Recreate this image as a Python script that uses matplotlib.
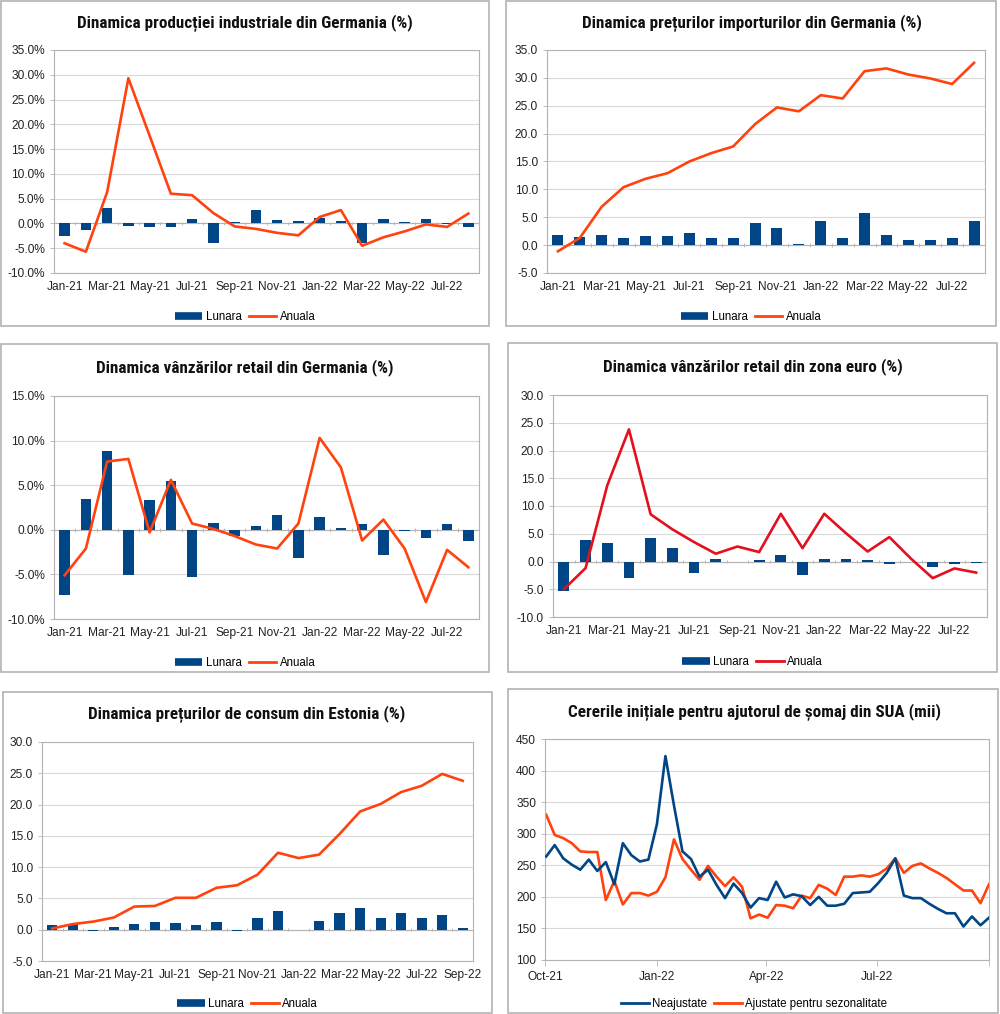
import matplotlib
matplotlib.use("Agg")
import matplotlib.pyplot as plt
from matplotlib.patches import Rectangle
from matplotlib.lines import Line2D
import pandas as pd
import numpy as np

plt.rcParams['font.family'] = ['Liberation Sans', 'DejaVu Sans']
TITLE_FONT = ['Roboto Condensed', 'Barlow Condensed', 'DejaVu Sans']

W, H = 1000, 1014
BLUE = '#004586'
ORANGE = '#ff420e'
RED = '#e3101e'
GRID = '#d9d9d9'
EDGE = '#b3b3b3'

# ---- date categories ----
months_20 = list(pd.date_range('2021-01-01', periods=20, freq='MS').strftime('%b-%y'))
months_21 = list(pd.date_range('2021-01-01', periods=21, freq='MS').strftime('%b-%y'))

# ---- 1. productia industriala Germania (%) ----
ind_lunara = [-2.5, -1.3, 3.1, -0.6, -0.8, -0.8, 0.8, -4.0, 0.3, 2.8,
              0.6, 0.5, 1.1, 0.4, -4.0, 0.9, 0.3, 0.9, -0.1, -0.8]
ind_anuala = [-4.0, -5.7, 6.3, 29.3, 17.7, 6.0, 5.7, 2.1, -0.6, -1.1,
              -1.9, -2.4, 1.3, 2.7, -4.5, -2.8, -1.6, -0.2, -0.7, 2.0]

# ---- 2. preturi import Germania ----
imp_lunara = [1.9, 1.5, 1.8, 1.3, 1.6, 1.6, 2.2, 1.3, 1.3, 3.9,
              3.0, 0.15, 4.3, 1.3, 5.8, 1.8, 0.9, 1.0, 1.3, 4.3]
imp_anuala = [-1.1, 1.3, 6.9, 10.4, 11.9, 12.9, 15.0, 16.5, 17.7, 21.7,
              24.7, 24.0, 26.9, 26.3, 31.2, 31.7, 30.6, 29.9, 28.9, 32.7]

# ---- 3. vanzari retail Germania (%) ----
rde_lunara = [-7.35, 3.45, 8.8, -5.05, 3.3, 5.5, -5.25, 0.8, -0.7, 0.4,
              1.7, -3.2, 1.4, 0.2, 0.6, -2.8, -0.1, -0.9, 0.7, -1.3]
rde_anuala = [-5.1, -2.1, 7.65, 7.95, -0.3, 5.6, 0.7, 0.1, -0.7, -1.65,
              -2.1, 0.7, 10.3, 7.0, -1.2, 1.15, -2.1, -8.1, -2.25, -4.2]

# ---- 4. vanzari retail zona euro ----
rez_lunara = [-5.3, 3.8, 3.35, -3.05, 4.25, 2.45, -2.05, 0.4, -0.1, 0.3,
              1.15, -2.35, 0.4, 0.4, 0.25, -0.4, -0.05, -1.0, -0.4, -0.3]
rez_anuala = [-5.0, -1.2, 13.7, 23.8, 8.5, 5.8, 3.5, 1.4, 2.7, 1.7,
              8.6, 2.4, 8.6, 5.1, 1.8, 4.4, 0.5, -3.0, -1.25, -2.0]

# ---- 5. preturi consum Estonia ----
est_lunara = [0.7, 0.95, -0.2, 0.45, 0.95, 1.2, 1.1, 0.7, 1.2, -0.2, 1.85,
              3.05, -0.05, 1.45, 2.65, 3.55, 1.85, 2.65, 1.85, 2.3, 0.3]
est_anuala = [0.2, 0.9, 1.3, 1.95, 3.7, 3.8, 5.1, 5.1, 6.7, 7.1, 8.8,
              12.3, 11.45, 12.0, 15.3, 18.9, 20.1, 22.0, 23.0, 24.9, 23.8]

# ---- 6. cereri initiale somaj SUA (mii), saptamanal ----
weeks = pd.date_range('2021-10-02', periods=53, freq='7D')
neajustate = [264, 282, 261, 251, 243, 259, 241, 255, 220, 285,
              266, 256, 259, 315, 423, 345, 272, 260, 232, 243,
              219, 198, 221, 206, 183, 198, 195, 224, 199, 204,
              201, 187, 200, 186, 186, 189, 206, 207, 208, 222,
              238, 261, 202, 198, 198, 189, 181, 174, 174, 153,
              169, 155, 167]
ajustate = [330, 298, 293, 285, 272, 271, 271, 195, 225, 188,
            206, 206, 202, 208, 231, 291, 260, 243, 227, 249,
            232, 217, 231, 216, 166, 172, 167, 187, 186, 182,
            202, 198, 219, 213, 203, 232, 232, 234, 232, 236,
            245, 261, 238, 249, 253, 245, 238, 230, 220, 210,
            210, 190, 220]

fig = plt.figure(figsize=(W / 100, H / 100), dpi=100)
fig.patch.set_facecolor('white')


def frame(x0, y0, x1, y1):
    fig.add_artist(Rectangle((x0 / W, 1 - y1 / H), (x1 - x0) / W, (y1 - y0) / H,
                             transform=fig.transFigure, fill=False, ec=EDGE, lw=1.2))


def make_ax(x0, y0, x1, y1):
    ax = fig.add_axes([x0 / W, 1 - y1 / H, (x1 - x0) / W, (y1 - y0) / H])
    for s in ax.spines.values():
        s.set_color(EDGE)
        s.set_linewidth(0.8)
    ax.grid(axis='y', color=GRID, lw=0.8)
    ax.set_axisbelow(True)
    ax.tick_params(labelsize=8.6, colors='#222222', length=3, width=0.6)
    ax.tick_params(axis='both', color=EDGE)
    return ax


def title(text, cx, y):
    fig.text(cx / W, 1 - y / H, text, ha='center', va='center', fontsize=12.3,
             fontweight='bold', family=TITLE_FONT, color='#111111')


def legend(handles, labels, cx, y):
    fig.legend(handles, labels, loc='center', bbox_to_anchor=(cx / W, 1 - y / H),
               ncol=len(labels), frameon=False, fontsize=8.3, handlelength=2.4,
               handletextpad=0.3, columnspacing=0.6)


def bar_panel(box, plot, cats, lunara, anuala, ylim, step, pct, ly, lcolor):
    frame(*box)
    ax = make_ax(*plot)
    x = np.arange(len(cats))
    ax.bar(x, lunara, width=0.5, color=BLUE, zorder=2)
    ax.plot(x, anuala, color=lcolor, lw=1.9, zorder=3)
    ax.axhline(0, color=EDGE, lw=0.8, zorder=1)
    d = 0.008 * (ylim[1] - ylim[0])
    ax.vlines(np.arange(len(cats) + 1) - 0.5, -d, d, color=EDGE, lw=0.6, zorder=1)
    ax.set_xlim(-0.5, len(cats) - 0.5)
    ax.set_ylim(*ylim)
    ax.set_yticks(np.arange(ylim[0], ylim[1] + step / 2, step))
    fmt = '{:.1f}%' if pct else '{:.1f}'
    ax.set_yticklabels([fmt.format(v) for v in ax.get_yticks()])
    ax.set_xticks(x[::2])
    ax.set_xticklabels(cats[::2])
    ax.tick_params(axis='x', length=0, pad=6)
    h = [Line2D([], [], color=BLUE, lw=5.5, solid_capstyle='butt'),
         Line2D([], [], color=lcolor, lw=2)]
    legend(h, ['Lunara', 'Anuala'], (box[0] + box[2]) / 2, ly)
    return ax


bar_panel((1, 1, 489, 326), (54, 50, 479, 273), months_20, ind_lunara, ind_anuala,
          (-10, 35), 5, True, 317, ORANGE)
title('Dinamica producției industriale din Germania (%)', 245, 23)

bar_panel((506, 1, 996, 326), (547, 50, 985, 273), months_20, imp_lunara, imp_anuala,
          (-5, 35), 5, False, 317, ORANGE)
title('Dinamica prețurilor importurilor din Germania (%)', 752, 23)

bar_panel((1, 344, 489, 672), (54, 396, 479, 619), months_20, rde_lunara, rde_anuala,
          (-10, 15), 5, True, 663, ORANGE)
title('Dinamica vânzărilor retail din Germania (%)', 245, 368)

bar_panel((508, 343, 997, 672), (553, 395, 987, 617), months_20, rez_lunara, rez_anuala,
          (-10, 30), 5, False, 662, RED)
title('Dinamica vânzărilor retail din zona euro (%)', 753, 367)

bar_panel((3, 692, 492, 1013), (42, 742, 473, 961), months_21, est_lunara, est_anuala,
          (-5, 30), 5, False, 1004, ORANGE)
title('Dinamica prețurilor de consum din Estonia (%)', 247, 714)

# ---- panel 6: weekly lines ----
frame(508, 689, 998, 1013)
ax = make_ax(545, 739, 989, 960)
ax.plot(weeks, neajustate, color=BLUE, lw=1.9, zorder=3)
ax.plot(weeks, ajustate, color=ORANGE, lw=1.9, zorder=2)
ax.set_ylim(100, 450)
ax.set_yticks(np.arange(100, 451, 50))
ax.set_xlim(pd.Timestamp('2021-10-01'), pd.Timestamp('2022-10-01'))
ticks = pd.to_datetime(['2021-10-01', '2022-01-01', '2022-04-01', '2022-07-01', '2022-10-01'])
ax.set_xticks(ticks)
ax.set_xticklabels(['Oct-21', 'Jan-22', 'Apr-22', 'Jul-22', ''])
ax.tick_params(axis='x', length=4, pad=4)
title('Cererile inițiale pentru ajutorul de șomaj din SUA (mii)', 754, 712)
h = [Line2D([], [], color=BLUE, lw=2), Line2D([], [], color=ORANGE, lw=2)]
legend(h, ['Neajustate', 'Ajustate pentru sezonalitate'], 754, 1004)

fig.savefig('out.png', dpi=100, facecolor='white')
